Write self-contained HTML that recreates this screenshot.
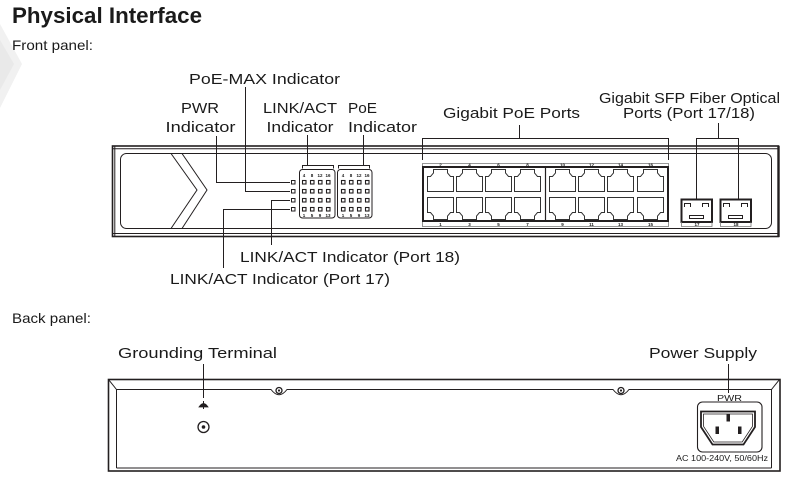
<!DOCTYPE html>
<html>
<head>
<meta charset="utf-8">
<style>
  html,body{margin:0;padding:0;background:#fff;}
  svg{display:block;}
  text{font-family:"Liberation Sans",sans-serif;fill:#1a1a1a;}
</style>
</head>
<body>
<svg width="793" height="487" viewBox="0 0 793 487" xmlns="http://www.w3.org/2000/svg">
  <!-- faint watermark -->
  <polygon points="0,24 22,64 0,108" fill="#f1f1f1"/>
  <polygon points="0,40 14,64 0,90" fill="#e9e9e9"/>

  <!-- headings -->
  <text x="12" y="23" font-size="22" font-weight="bold" fill="#000" textLength="190" lengthAdjust="spacingAndGlyphs">Physical Interface</text>
  <text x="12" y="50" font-size="14" textLength="81" lengthAdjust="spacingAndGlyphs">Front panel:</text>
  <text x="12" y="323" font-size="14" textLength="79" lengthAdjust="spacingAndGlyphs">Back panel:</text>

  <!-- FRONT PANEL labels -->
  <g font-size="15">
    <text x="189" y="84" textLength="151" lengthAdjust="spacingAndGlyphs">PoE-MAX Indicator</text>
    <text x="200" y="113" text-anchor="middle" textLength="38" lengthAdjust="spacingAndGlyphs">PWR</text>
    <text x="200.5" y="132" text-anchor="middle" textLength="70" lengthAdjust="spacingAndGlyphs">Indicator</text>
    <text x="300" y="113" text-anchor="middle" textLength="74" lengthAdjust="spacingAndGlyphs">LINK/ACT</text>
    <text x="300" y="132" text-anchor="middle" textLength="67" lengthAdjust="spacingAndGlyphs">Indicator</text>
    <text x="348" y="113" textLength="29" lengthAdjust="spacingAndGlyphs">PoE</text>
    <text x="348" y="132" textLength="69" lengthAdjust="spacingAndGlyphs">Indicator</text>
    <text x="443" y="118" textLength="137" lengthAdjust="spacingAndGlyphs">Gigabit PoE Ports</text>
    <text x="599" y="103" textLength="181" lengthAdjust="spacingAndGlyphs">Gigabit SFP Fiber Optical</text>
    <text x="623" y="118" textLength="132" lengthAdjust="spacingAndGlyphs">Ports (Port 17/18)</text>
    <text x="240" y="262" textLength="220" lengthAdjust="spacingAndGlyphs">LINK/ACT Indicator (Port 18)</text>
    <text x="170" y="284" textLength="220" lengthAdjust="spacingAndGlyphs">LINK/ACT Indicator (Port 17)</text>
    <text x="118" y="358" textLength="159" lengthAdjust="spacingAndGlyphs">Grounding Terminal</text>
    <text x="649" y="358" textLength="108" lengthAdjust="spacingAndGlyphs">Power Supply</text>
  </g>

  <g fill="none" stroke="#231f20" stroke-width="1">
    <!-- front panel frame -->
    <rect x="112.5" y="146" width="666" height="90.5" stroke-width="1.6"/>
    <line x1="112" y1="148.8" x2="779" y2="148.8"/>
    <line x1="114.8" y1="146" x2="114.8" y2="236"/>
    <line x1="112" y1="233.5" x2="779" y2="233.5"/>
    <line x1="778.5" y1="146" x2="778.5" y2="237" stroke-width="2.4"/>
    <rect x="120.5" y="153.5" width="651" height="75" rx="6" ry="6"/>
    <!-- chevron -->
    <polyline points="171,153.5 197,190 171,228.5"/>
    <polyline points="182,153.5 207,190 182,228.5"/>

    <!-- connectors -->
    <path d="M216.5,136 V182.5 H290"/>
    <path d="M245.5,87 V191.5 H290"/>
    <path d="M271.5,245 V200.5 H290"/>
    <path d="M223.5,268 V209.5 H290"/>
    <path d="M307.5,135 V165.5"/>
    <path d="M302.5,168.5 V165.5 H333.5 V168.5"/>
    <path d="M363.5,135 V165.5"/>
    <path d="M338.5,168.5 V165.5 H369.5 V168.5"/>
    <path d="M519.5,125 V138.5"/>
    <path d="M422.5,160 V138.5 H668.5 V160"/>
    <path d="M718.5,123 V138.5"/>
    <path d="M696.5,199 V138.5 H738.5 V199"/>

    <!-- single indicator column -->
    <rect x="291.5" y="180.5" width="3.5" height="3.5"/>
    <rect x="291.5" y="189.5" width="3.5" height="3.5"/>
    <rect x="291.5" y="198.5" width="3.5" height="3.5"/>
    <rect x="291.5" y="207.5" width="3.5" height="3.5"/>

    <!-- indicator grids -->
    <rect x="299.5" y="169.5" width="35.5" height="48.5" rx="3" ry="3"/>
    <rect x="337.5" y="169.5" width="34.5" height="48.5" rx="3" ry="3"/>
  </g>

  <!-- grid LEDs -->
  <g fill="none" stroke="#231f20" stroke-width="1.1">
    <!-- grid 1 -->
    <rect x="302.5" y="180.5" width="3.5" height="3.5"/><rect x="310.5" y="180.5" width="3.5" height="3.5"/><rect x="318.5" y="180.5" width="3.5" height="3.5"/><rect x="326.5" y="180.5" width="3.5" height="3.5"/>
    <rect x="302.5" y="189.5" width="3.5" height="3.5"/><rect x="310.5" y="189.5" width="3.5" height="3.5"/><rect x="318.5" y="189.5" width="3.5" height="3.5"/><rect x="326.5" y="189.5" width="3.5" height="3.5"/>
    <rect x="302.5" y="198.5" width="3.5" height="3.5"/><rect x="310.5" y="198.5" width="3.5" height="3.5"/><rect x="318.5" y="198.5" width="3.5" height="3.5"/><rect x="326.5" y="198.5" width="3.5" height="3.5"/>
    <rect x="302.5" y="207.5" width="3.5" height="3.5"/><rect x="310.5" y="207.5" width="3.5" height="3.5"/><rect x="318.5" y="207.5" width="3.5" height="3.5"/><rect x="326.5" y="207.5" width="3.5" height="3.5"/>
    <!-- grid 2 -->
    <rect x="341.5" y="180.5" width="3.5" height="3.5"/><rect x="349.5" y="180.5" width="3.5" height="3.5"/><rect x="357.5" y="180.5" width="3.5" height="3.5"/><rect x="365.5" y="180.5" width="3.5" height="3.5"/>
    <rect x="341.5" y="189.5" width="3.5" height="3.5"/><rect x="349.5" y="189.5" width="3.5" height="3.5"/><rect x="357.5" y="189.5" width="3.5" height="3.5"/><rect x="365.5" y="189.5" width="3.5" height="3.5"/>
    <rect x="341.5" y="198.5" width="3.5" height="3.5"/><rect x="349.5" y="198.5" width="3.5" height="3.5"/><rect x="357.5" y="198.5" width="3.5" height="3.5"/><rect x="365.5" y="198.5" width="3.5" height="3.5"/>
    <rect x="341.5" y="207.5" width="3.5" height="3.5"/><rect x="349.5" y="207.5" width="3.5" height="3.5"/><rect x="357.5" y="207.5" width="3.5" height="3.5"/><rect x="365.5" y="207.5" width="3.5" height="3.5"/>
  </g>
  <g font-size="4.5" font-weight="bold" text-anchor="middle">
    <text x="304" y="177">4</text><text x="312" y="177">8</text><text x="320" y="177">12</text><text x="328" y="177">16</text>
    <text x="304" y="217">1</text><text x="312" y="217">5</text><text x="320" y="217">9</text><text x="328" y="217">13</text>
    <text x="343" y="177">4</text><text x="351" y="177">8</text><text x="359" y="177">12</text><text x="367" y="177">16</text>
    <text x="343" y="217">1</text><text x="351" y="217">5</text><text x="359" y="217">9</text><text x="367" y="217">13</text>
  </g>

  <!-- RJ45 port block -->
  <g fill="none" stroke="#231f20">
    <path d="M422.5,167 V163.5 H668.5 V167" stroke-width="0.8" stroke="#777"/>
    <path d="M422.5,221 V226.5 H668.5 V221" stroke-width="0.8" stroke="#777"/>
    <rect x="423" y="167" width="245" height="54" stroke-width="2"/>
    <line x1="545.5" y1="167" x2="545.5" y2="221" stroke-width="1.2"/>
  </g>
  <defs>
    <path id="pt" d="M0,22 V7 H3 L6,3.5 V0 H20 V3.5 L23,7 H26 V22 Z" fill="none" stroke="#333" stroke-width="1"/>
    <path id="pb" d="M0,0 V15 H3 L6,18.5 V22 H20 V18.5 L23,15 H26 V0 Z" fill="none" stroke="#333" stroke-width="1"/>
  </defs>
  <use href="#pt" x="427.5" y="169.5"/><use href="#pt" x="456.5" y="169.5"/><use href="#pt" x="485.5" y="169.5"/><use href="#pt" x="514.5" y="169.5"/>
  <use href="#pt" x="549.5" y="169.5"/><use href="#pt" x="578.5" y="169.5"/><use href="#pt" x="607.5" y="169.5"/><use href="#pt" x="637.5" y="169.5"/>
  <use href="#pb" x="427.5" y="197.5"/><use href="#pb" x="456.5" y="197.5"/><use href="#pb" x="485.5" y="197.5"/><use href="#pb" x="514.5" y="197.5"/>
  <use href="#pb" x="549.5" y="197.5"/><use href="#pb" x="578.5" y="197.5"/><use href="#pb" x="607.5" y="197.5"/><use href="#pb" x="637.5" y="197.5"/>
  <g font-size="4.5" font-weight="bold" text-anchor="middle">
    <text x="440.5" y="166.5">2</text><text x="469.5" y="166.5">4</text><text x="498.5" y="166.5">6</text><text x="527.5" y="166.5">8</text>
    <text x="562.5" y="166.5">10</text><text x="591.5" y="166.5">12</text><text x="620.5" y="166.5">14</text><text x="650.5" y="166.5">16</text>
    <text x="440.5" y="226">1</text><text x="469.5" y="226">3</text><text x="498.5" y="226">5</text><text x="527.5" y="226">7</text>
    <text x="562.5" y="226">9</text><text x="591.5" y="226">11</text><text x="620.5" y="226">13</text><text x="650.5" y="226">15</text>
  </g>

  <!-- SFP ports -->
  <g fill="none" stroke="#231f20">
    <rect x="681.5" y="199.5" width="30.5" height="22.5" stroke-width="2"/>
    <path d="M681.5,222 V226.5 H712 V222" stroke-width="0.8" stroke="#777"/>
    <path d="M684.5,207 V203.5 H690.5 V207" stroke-width="1"/>
    <path d="M702.5,207 V203.5 H708.5 V207" stroke-width="1"/>
    <rect x="689.5" y="215.5" width="14" height="3" stroke-width="1"/>
    <rect x="720.5" y="199.5" width="30.5" height="22.5" stroke-width="2"/>
    <path d="M720.5,222 V226.5 H751 V222" stroke-width="0.8" stroke="#777"/>
    <path d="M723.5,207 V203.5 H729.5 V207" stroke-width="1"/>
    <path d="M741.5,207 V203.5 H747.5 V207" stroke-width="1"/>
    <rect x="728.5" y="215.5" width="14" height="3" stroke-width="1"/>
  </g>
  <g font-size="4.5" font-weight="bold" text-anchor="middle">
    <text x="697" y="226">17</text><text x="736" y="226">18</text>
  </g>

  <!-- BACK PANEL -->
  <g fill="none" stroke="#231f20" stroke-width="1">
    <path d="M203.5,364 V398"/>
    <path d="M728.5,364 V393"/>
    <rect x="108.5" y="379.5" width="671.5" height="91.5" stroke-width="1.6"/>
    <path d="M116.5,389.5 H271 Q279,400 287,389.5 H613 Q621,400 629,389.5 H772"/>
    <line x1="116.5" y1="389.5" x2="116.5" y2="468"/>
    <line x1="771.5" y1="389.5" x2="771.5" y2="468"/>
    <line x1="108.5" y1="379.5" x2="116.5" y2="389.5"/>
    <line x1="779.5" y1="379.5" x2="771.5" y2="389.5"/>
    <line x1="116.5" y1="468" x2="771.5" y2="468"/>
    <!-- screws -->
    <circle cx="279" cy="390.5" r="3" stroke-width="1.3"/>
    <circle cx="621" cy="390.5" r="3" stroke-width="1.3"/>
    <!-- terminal -->
    <circle cx="203.5" cy="427" r="5.5" stroke-width="1.3"/>
    <circle cx="203.5" cy="427" r="1.3" fill="#231f20"/>
    <!-- ground symbol -->
    <path d="M199,407 Q203.5,400 208,407 Z" fill="#231f20" stroke-width="0.8"/>
    <line x1="203.5" y1="401" x2="203.5" y2="409" stroke-width="1"/>
    <!-- power socket -->
    <rect x="697.5" y="402" width="64.5" height="50" rx="5" ry="5" stroke-width="1.1"/>
    <path d="M701,411.5 H755 V427 L743.5,444.5 H712.5 L701,427 Z" stroke-width="1.8"/>
    <path d="M703.5,414 H752.5 V426.3 L742.2,442 H713.8 L703.5,426.3 Z" stroke-width="0.8"/>
  </g>
  <circle cx="279" cy="390.5" r="1.1" fill="#231f20"/>
  <circle cx="621" cy="390.5" r="1.1" fill="#231f20"/>
  <g fill="#231f20">
    <rect x="726.5" y="414" width="3.5" height="7.5"/>
    <rect x="715.5" y="426.5" width="3.5" height="7.5"/>
    <rect x="738" y="426.5" width="3.5" height="7.5"/>
  </g>
  <text x="729.5" y="401" font-size="8.5" text-anchor="middle" textLength="25" lengthAdjust="spacingAndGlyphs">PWR</text>
  <text x="676" y="461" font-size="8" textLength="92" lengthAdjust="spacingAndGlyphs">AC 100-240V, 50/60Hz</text>
</svg>
</body>
</html>
